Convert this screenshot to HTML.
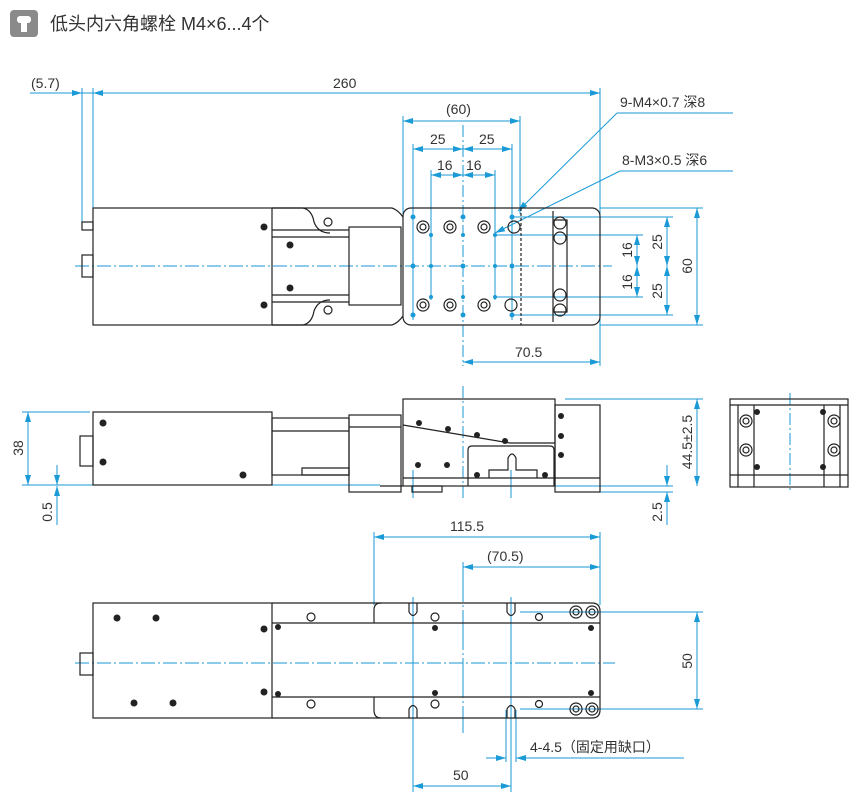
<!DOCTYPE html>
<html><head><meta charset="utf-8"><style>
body{margin:0;background:#fff;width:857px;height:801px;overflow:hidden}
svg{display:block}
text{font-family:"Liberation Sans","Noto Sans CJK SC",sans-serif;fill:#333}
</style></head><body>
<svg width="857" height="801" viewBox="0 0 857 801" xmlns="http://www.w3.org/2000/svg">
<defs>
<marker id="a" viewBox="0 0 10 6" refX="10" refY="3" markerWidth="10" markerHeight="6" orient="auto-start-reverse" markerUnits="userSpaceOnUse"><path d="M0,0L10,3L0,6z" fill="#1a9ad6"/></marker>
</defs>
<rect x="10" y="10" width="28" height="27" rx="4" fill="#8a8a8a"/>
<rect x="17" y="16" width="14" height="7" rx="3" fill="#fff"/>
<rect x="21" y="22" width="6" height="10" fill="#fff"/>
<text x="50" y="30" font-size="18">低头内六角螺栓 M4×6...4个</text>

<g stroke="#1a9ad6" stroke-width="1" fill="none">
<line x1="30" y1="93" x2="600" y2="93"/>
<line x1="72" y1="93" x2="82" y2="93" marker-end="url(#a)"/>
<line x1="103" y1="93" x2="93" y2="93" marker-end="url(#a)"/>
<line x1="590" y1="93" x2="600" y2="93" marker-end="url(#a)"/>
<line x1="82" y1="88" x2="82" y2="225"/><line x1="93" y1="88" x2="93" y2="208"/>
<line x1="600" y1="88" x2="600" y2="366"/>
<line x1="403" y1="121" x2="520" y2="121" marker-start="url(#a)" marker-end="url(#a)"/>
<line x1="403" y1="116" x2="403" y2="214"/><line x1="520" y1="116" x2="520" y2="214"/>
<line x1="413" y1="149" x2="463" y2="149" marker-start="url(#a)" marker-end="url(#a)"/>
<line x1="463" y1="149" x2="512" y2="149" marker-start="url(#a)" marker-end="url(#a)"/>
<line x1="413" y1="144" x2="413" y2="320"/><line x1="512" y1="144" x2="512" y2="320"/>
<line x1="431" y1="175" x2="463" y2="175" marker-start="url(#a)" marker-end="url(#a)"/>
<line x1="463" y1="175" x2="495" y2="175" marker-start="url(#a)" marker-end="url(#a)"/>
<line x1="431" y1="170" x2="431" y2="300"/><line x1="495" y1="170" x2="495" y2="300"/>
<line x1="463" y1="125" x2="463" y2="366" stroke-dasharray="12,3,2,3"/>
<line x1="617" y1="113" x2="733" y2="113"/><line x1="617" y1="113" x2="518" y2="211" marker-end="url(#a)"/>
<line x1="620" y1="171" x2="733" y2="171"/><line x1="620" y1="171" x2="495" y2="233" marker-end="url(#a)"/>
<line x1="463" y1="362" x2="600" y2="362" marker-start="url(#a)" marker-end="url(#a)"/>
<line x1="600" y1="208" x2="703" y2="208"/><line x1="600" y1="325" x2="703" y2="325"/>
<line x1="697" y1="208" x2="697" y2="325" marker-start="url(#a)" marker-end="url(#a)"/>
<line x1="512" y1="217" x2="673" y2="217"/><line x1="512" y1="315" x2="673" y2="315"/>
<line x1="667" y1="217" x2="667" y2="266" marker-start="url(#a)" marker-end="url(#a)"/>
<line x1="667" y1="266" x2="667" y2="315" marker-start="url(#a)" marker-end="url(#a)"/>
<line x1="495" y1="235" x2="643" y2="235"/><line x1="495" y1="297" x2="643" y2="297"/>
<line x1="637" y1="235" x2="637" y2="266" marker-start="url(#a)" marker-end="url(#a)"/>
<line x1="637" y1="266" x2="637" y2="297" marker-start="url(#a)" marker-end="url(#a)"/>
<line x1="75" y1="266" x2="612" y2="266" stroke-dasharray="14,3,2,3"/>
<line x1="22" y1="412" x2="90" y2="412"/><line x1="22" y1="485" x2="380" y2="485"/>
<line x1="28" y1="412" x2="28" y2="485" marker-start="url(#a)" marker-end="url(#a)"/>
<line x1="57" y1="465" x2="57" y2="485" marker-end="url(#a)"/>
<line x1="57" y1="497" x2="57" y2="486" marker-end="url(#a)"/>
<line x1="57" y1="486" x2="57" y2="525"/>
<line x1="463" y1="386" x2="463" y2="498" stroke-dasharray="12,3,2,3"/>
<line x1="413" y1="470" x2="413" y2="498"/><line x1="511" y1="470" x2="511" y2="498"/>
<line x1="565" y1="399" x2="703" y2="399"/><line x1="540" y1="486" x2="673" y2="486"/>
<line x1="600" y1="492" x2="673" y2="492"/>
<line x1="697" y1="399" x2="697" y2="486" marker-start="url(#a)" marker-end="url(#a)"/>
<line x1="667" y1="465" x2="667" y2="486" marker-end="url(#a)"/>
<line x1="667" y1="503" x2="667" y2="492" marker-end="url(#a)"/>
<line x1="667" y1="492" x2="667" y2="525"/>
<line x1="790" y1="393" x2="790" y2="492" stroke-dasharray="12,3,2,3"/>
<line x1="374" y1="537" x2="600" y2="537" marker-start="url(#a)" marker-end="url(#a)"/>
<line x1="374" y1="532" x2="374" y2="605"/><line x1="600" y1="532" x2="600" y2="605"/>
<line x1="463" y1="567" x2="600" y2="567" marker-start="url(#a)" marker-end="url(#a)"/>
<line x1="463" y1="562" x2="463" y2="733" stroke-dasharray="40,3,2,3"/>
<line x1="75" y1="663" x2="615" y2="663" stroke-dasharray="14,3,2,3"/>
<line x1="520" y1="612" x2="703" y2="612"/><line x1="520" y1="709" x2="703" y2="709"/>
<line x1="697" y1="612" x2="697" y2="709" marker-start="url(#a)" marker-end="url(#a)"/>
<line x1="413" y1="597" x2="413" y2="792"/><line x1="511" y1="597" x2="511" y2="792"/>
<line x1="506" y1="710" x2="506" y2="762"/><line x1="516" y1="710" x2="516" y2="762"/>
<line x1="486" y1="758" x2="506" y2="758" marker-end="url(#a)"/>
<line x1="684" y1="758" x2="516" y2="758" marker-end="url(#a)"/>
<line x1="413" y1="786" x2="511" y2="786" marker-start="url(#a)" marker-end="url(#a)"/>
</g>

<g font-size="14">
<text x="31" y="88">(5.7)</text>
<text x="333" y="88">260</text>
<text x="446" y="114">(60)</text>
<text x="430" y="144">25</text>
<text x="479" y="144">25</text>
<text x="437" y="170">16</text>
<text x="466" y="170">16</text>
<text x="620" y="107">9-M4×0.7 深8</text>
<text x="622" y="165">8-M3×0.5 深6</text>
<text x="515" y="357">70.5</text>
<text transform="translate(692,266) rotate(-90)" text-anchor="middle">60</text>
<text transform="translate(662,242) rotate(-90)" text-anchor="middle">25</text>
<text transform="translate(662,291) rotate(-90)" text-anchor="middle">25</text>
<text transform="translate(632,250) rotate(-90)" text-anchor="middle">16</text>
<text transform="translate(632,282) rotate(-90)" text-anchor="middle">16</text>
<text transform="translate(23,448) rotate(-90)" text-anchor="middle">38</text>
<text transform="translate(52,512) rotate(-90)" text-anchor="middle">0.5</text>
<text transform="translate(692,442) rotate(-90)" text-anchor="middle">44.5±2.5</text>
<text transform="translate(662,512) rotate(-90)" text-anchor="middle">2.5</text>
<text x="450" y="531">115.5</text>
<text x="487" y="561">(70.5)</text>
<text transform="translate(692,661) rotate(-90)" text-anchor="middle">50</text>
<text x="530" y="752">4-4.5（固定用缺口）</text>
<text x="453" y="780">50</text>
</g>

<g stroke="#222" stroke-width="1.2" fill="none">
<rect x="93" y="208" width="179" height="117"/>
<path d="M272,208 H303 Q312,210 314,222 Q318,233 330,233 M272,325 H303 Q312,323 314,311 Q318,300 330,300"/>
<path d="M272,208 H392 Q398,210 403,217 M272,325 H392 Q398,323 403,316"/>
<line x1="272" y1="230" x2="349" y2="230"/><line x1="272" y1="237" x2="349" y2="237"/>
<line x1="272" y1="295" x2="349" y2="295"/><line x1="272" y1="302" x2="349" y2="302"/>
<rect x="349" y="227" width="52" height="78"/>
<rect x="403" y="208" width="197" height="117" rx="8"/>
<line x1="521" y1="208" x2="521" y2="325" stroke-dasharray="3,2"/>
<line x1="553" y1="211" x2="553" y2="322"/>
<path d="M553,220 H567 V312 H553" />
<circle cx="560" cy="223" r="6"/><circle cx="560" cy="238" r="6"/>
<circle cx="560" cy="295" r="6"/><circle cx="560" cy="310" r="6"/>
<rect x="82" y="222" width="11" height="8"/>
<rect x="82" y="255" width="11" height="22"/>
<circle cx="328" cy="222" r="4"/><circle cx="328" cy="310" r="4"/>
<circle cx="423" cy="227" r="6"/><circle cx="450" cy="227" r="6"/><circle cx="484" cy="227" r="6"/><circle cx="514" cy="227" r="6"/>
<circle cx="423" cy="305" r="6"/><circle cx="450" cy="305" r="6"/><circle cx="484" cy="305" r="6"/><circle cx="511" cy="305" r="6"/>
<circle cx="423" cy="227" r="3"/><circle cx="450" cy="227" r="3"/><circle cx="484" cy="227" r="3"/>
<circle cx="423" cy="305" r="3"/><circle cx="450" cy="305" r="3"/><circle cx="484" cy="305" r="3"/>
<rect x="93" y="412" width="179" height="73"/>
<rect x="272" y="418" width="77" height="57"/>
<line x1="272" y1="431" x2="349" y2="431"/>
<rect x="349" y="415" width="52" height="77"/>
<line x1="349" y1="427" x2="401" y2="427"/>
<rect x="403" y="399" width="152" height="87"/>
<rect x="555" y="405" width="45" height="87"/>
<line x1="403" y1="478" x2="600" y2="478"/>
<path d="M403,425 L510,443 L555,443"/>
<path d="M468,486 V450 Q468,446 472,446 H550 Q554,446 554,450 V486"/>
<path d="M489,478 V470 H508 V458 Q512,450 516,458 V470 H537 V478"/>
<path d="M302,475 H349 V468 H302 Z"/>
<line x1="380" y1="486" x2="403" y2="486"/>
<rect x="412" y="486" width="30" height="6"/>
<rect x="80" y="436" width="13" height="30"/>
<rect x="730" y="399" width="118" height="88"/>
<line x1="730" y1="405" x2="848" y2="405"/>
<line x1="738" y1="405" x2="738" y2="487"/><line x1="840" y1="405" x2="840" y2="487"/>
<line x1="754" y1="405" x2="754" y2="487"/><line x1="824" y1="405" x2="824" y2="487"/>
<line x1="730" y1="475" x2="848" y2="475"/>
<circle cx="746" cy="421" r="6"/><circle cx="746" cy="450" r="6"/><circle cx="834" cy="421" r="6"/><circle cx="834" cy="450" r="6"/>
<circle cx="746" cy="421" r="3"/><circle cx="746" cy="450" r="3"/><circle cx="834" cy="421" r="3"/><circle cx="834" cy="450" r="3"/>
<rect x="93" y="603" width="179" height="115"/>
<path d="M272,603 H592 Q600,603 600,611 V710 Q600,718 592,718 H272"/>
<line x1="272" y1="623" x2="600" y2="623"/><line x1="272" y1="697" x2="600" y2="697"/>
<path d="M374,623 V610 Q374,603 381,603 M374,697 V710 Q374,718 381,718"/>
<path d="M409,603 V612 Q413,619 417,612 V603 M507,603 V612 Q511,619 515,612 V603"/>
<path d="M409,718 V709 Q413,702 417,709 V718 M507,718 V709 Q511,702 515,709 V718"/>
<rect x="80" y="653" width="13" height="22"/>
<circle cx="311" cy="617" r="4"/><circle cx="311" cy="704" r="4"/>
<circle cx="435" cy="617" r="4"/><circle cx="435" cy="704" r="4"/>
<circle cx="539" cy="617" r="3.5"/><circle cx="539" cy="704" r="3.5"/>
<circle cx="576" cy="612" r="6"/><circle cx="592" cy="612" r="6"/><circle cx="576" cy="709" r="6"/><circle cx="592" cy="709" r="6"/>
<circle cx="576" cy="612" r="3"/><circle cx="592" cy="612" r="3"/><circle cx="576" cy="709" r="3"/><circle cx="592" cy="709" r="3"/>
</g>
<g fill="#222">
<circle cx="264" cy="227" r="3.5"/><circle cx="264" cy="305" r="3.5"/>
<circle cx="290" cy="245" r="3.5"/><circle cx="290" cy="288" r="3.5"/>
<circle cx="103" cy="423" r="3.5"/><circle cx="103" cy="462" r="3.5"/><circle cx="243" cy="475" r="3.5"/>
<circle cx="419" cy="423" r="3"/><circle cx="448" cy="429" r="3"/><circle cx="477" cy="435" r="3"/><circle cx="505" cy="441" r="3"/>
<circle cx="418" cy="465" r="3"/><circle cx="447" cy="465" r="3"/><circle cx="477" cy="475" r="3"/><circle cx="545" cy="475" r="3"/>
<circle cx="561" cy="416" r="3"/><circle cx="561" cy="436" r="3"/><circle cx="561" cy="455" r="3"/>
<circle cx="757" cy="412" r="3"/><circle cx="757" cy="467" r="3"/><circle cx="823" cy="412" r="3"/><circle cx="823" cy="467" r="3"/>
<circle cx="117" cy="618" r="3.5"/><circle cx="156" cy="618" r="3.5"/><circle cx="134" cy="703" r="3.5"/><circle cx="173" cy="703" r="3.5"/>
<circle cx="264" cy="629" r="3.5"/><circle cx="264" cy="692" r="3.5"/>
<circle cx="278" cy="627" r="3"/><circle cx="278" cy="694" r="3"/>
<circle cx="435" cy="628" r="3"/><circle cx="435" cy="693" r="3"/>
<circle cx="591" cy="628" r="3"/><circle cx="591" cy="693" r="3"/>
</g>
<g fill="#1a9ad6">
<circle cx="413" cy="217" r="2.5"/><circle cx="463" cy="217" r="2.5"/><circle cx="512" cy="217" r="2.5"/>
<circle cx="413" cy="266" r="2.5"/><circle cx="463" cy="266" r="2.5"/><circle cx="512" cy="266" r="2.5"/>
<circle cx="413" cy="315" r="2.5"/><circle cx="463" cy="315" r="2.5"/><circle cx="512" cy="315" r="2.5"/>
<circle cx="431" cy="235" r="2"/><circle cx="495" cy="235" r="2"/><circle cx="431" cy="266" r="2"/><circle cx="495" cy="266" r="2"/>
<circle cx="431" cy="297" r="2"/><circle cx="463" cy="235" r="2"/><circle cx="463" cy="297" r="2"/><circle cx="495" cy="297" r="2"/>
</g>
</svg>
</body></html>
